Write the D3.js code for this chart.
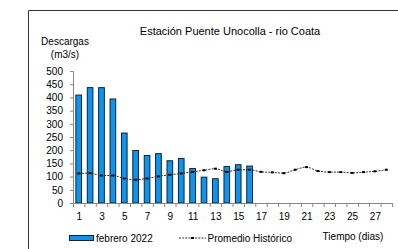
<!DOCTYPE html>
<html lang="es">
<head>
    <meta charset="utf-8">
    <title>Estación Puente Unocolla - rio Coata</title>
    <style>
        body { margin: 0; background: #fff; }
        text { font-family: "Liberation Sans", Arial, sans-serif; fill: #000; }
        .axis path, .axis line { stroke: #888; }
        .axis text { font-size: 10px; font-family: "Liberation Sans", Arial, sans-serif; fill: #000; }
    </style>
    <script src="https://cdn.jsdelivr.net/npm/d3@7"></script>
</head>
<body>
    <svg class="chart" width="398" height="249"></svg>
    <script>
        // dias 1..28
        const dias = d3.range(1, 29)
        // descargas febrero 2022 (solo hasta el dia 16)
        const febrero2022 = [409, 437, 437, 394, 265, 199, 180, 187, 160, 169, 131, 98, 92, 138, 145, 140]
        // promedio historico
        const promedio = [112, 113, 104, 104, 93, 88, 93, 101, 107, 112, 118, 124, 130, 118, 126, 126,
            118, 116, 113, 126, 136, 121, 117, 117, 114, 117, 120, 126]
        const yTicks = [0, 50, 100, 150, 200, 250, 300, 350, 400, 450, 500]
        const xLabels = [1, 3, 5, 7, 9, 11, 13, 15, 17, 19, 21, 23, 25, 27]

        var svg = d3.select('.chart')

        // marco del grafico
        svg.append('path')
            .attr('d', 'M28.5,249 V10.5 H398')
            .attr('fill', 'none')
            .attr('stroke', '#333')

        var x = d3.scaleBand().domain(dias).range([73, 392]).paddingInner(0.5).paddingOuter(0.25)
        var xLin = d3.scaleLinear().domain([0.5, 28.5]).range([73, 392])
        var y = d3.scaleLinear().domain([0, 500]).range([203, 71])

        // eje y
        svg.append('g')
            .attr('class', 'axis')
            .attr('transform', 'translate(73,0)')
            .call(d3.axisLeft(y).tickValues(yTicks).tickSize(3).tickPadding(7))

        // barras
        svg.append('g').selectAll('rect')
            .data(febrero2022)
            .join('rect')
            .attr('x', (d, i) => x(dias[i]))
            .attr('y', d => y(d))
            .attr('width', x.bandwidth())
            .attr('height', d => y(0) - y(d))
            .attr('fill', '#0b95f2')
            .attr('stroke', '#111')
            .attr('stroke-width', 0.9)

        // eje x: marcas entre dias
        svg.append('g')
            .attr('class', 'axis')
            .attr('transform', 'translate(0,203)')
            .call(d3.axisBottom(xLin).tickValues(d3.range(0.5, 29, 1)).tickSize(4).tickFormat(''))

        // eje x: etiquetas impares
        var xa = svg.append('g')
            .attr('class', 'axis')
            .attr('transform', 'translate(0,203)')
            .call(d3.axisBottom(xLin).tickValues(xLabels).tickSize(0).tickPadding(10))
        xa.select('.domain').remove()

        // promedio historico
        var line = d3.line().x((d, i) => xLin(dias[i])).y(d => y(d)).curve(d3.curveMonotoneX)
        svg.append('path')
            .datum(promedio)
            .attr('d', line)
            .attr('fill', 'none')
            .attr('stroke', '#333')
            .attr('stroke-width', 1)
            .attr('stroke-dasharray', '2,1.2')
        svg.append('g').selectAll('rect')
            .data(promedio)
            .join('rect')
            .attr('x', (d, i) => xLin(dias[i]) - 1.5)
            .attr('y', d => y(d) - 1)
            .attr('width', 3)
            .attr('height', 2)
            .attr('fill', '#000')

        // titulos
        svg.append('text').attr('x', 230).attr('y', 35).attr('text-anchor', 'middle')
            .style('font-size', '11px').text('Estación Puente Unocolla - rio Coata')
        svg.append('text').attr('x', 65).attr('y', 45).attr('text-anchor', 'middle')
            .style('font-size', '10px').text('Descargas')
        svg.append('text').attr('x', 65).attr('y', 58).attr('text-anchor', 'middle')
            .style('font-size', '10px').text('(m3/s)')
        svg.append('text').attr('x', 353).attr('y', 240).attr('text-anchor', 'middle')
            .style('font-size', '10px').text('Tiempo (dias)')

        // leyenda
        var leg = svg.append('g')
        leg.append('rect').attr('x', 69.5).attr('y', 235.5).attr('width', 24).attr('height', 5)
            .attr('fill', '#0b95f2').attr('stroke', '#111').attr('stroke-width', 0.9)
        leg.append('text').attr('x', 96).attr('y', 241.5).style('font-size', '10px').text('febrero 2022')
        leg.append('line').attr('x1', 179).attr('x2', 206).attr('y1', 238).attr('y2', 238)
            .attr('stroke', '#333').attr('stroke-dasharray', '2,1.2')
        leg.append('rect').attr('x', 191).attr('y', 237).attr('width', 3).attr('height', 2).attr('fill', '#000')
        leg.append('text').attr('x', 207.5).attr('y', 241.5).style('font-size', '10px').text('Promedio Histórico')
    </script>
</body>
</html>
